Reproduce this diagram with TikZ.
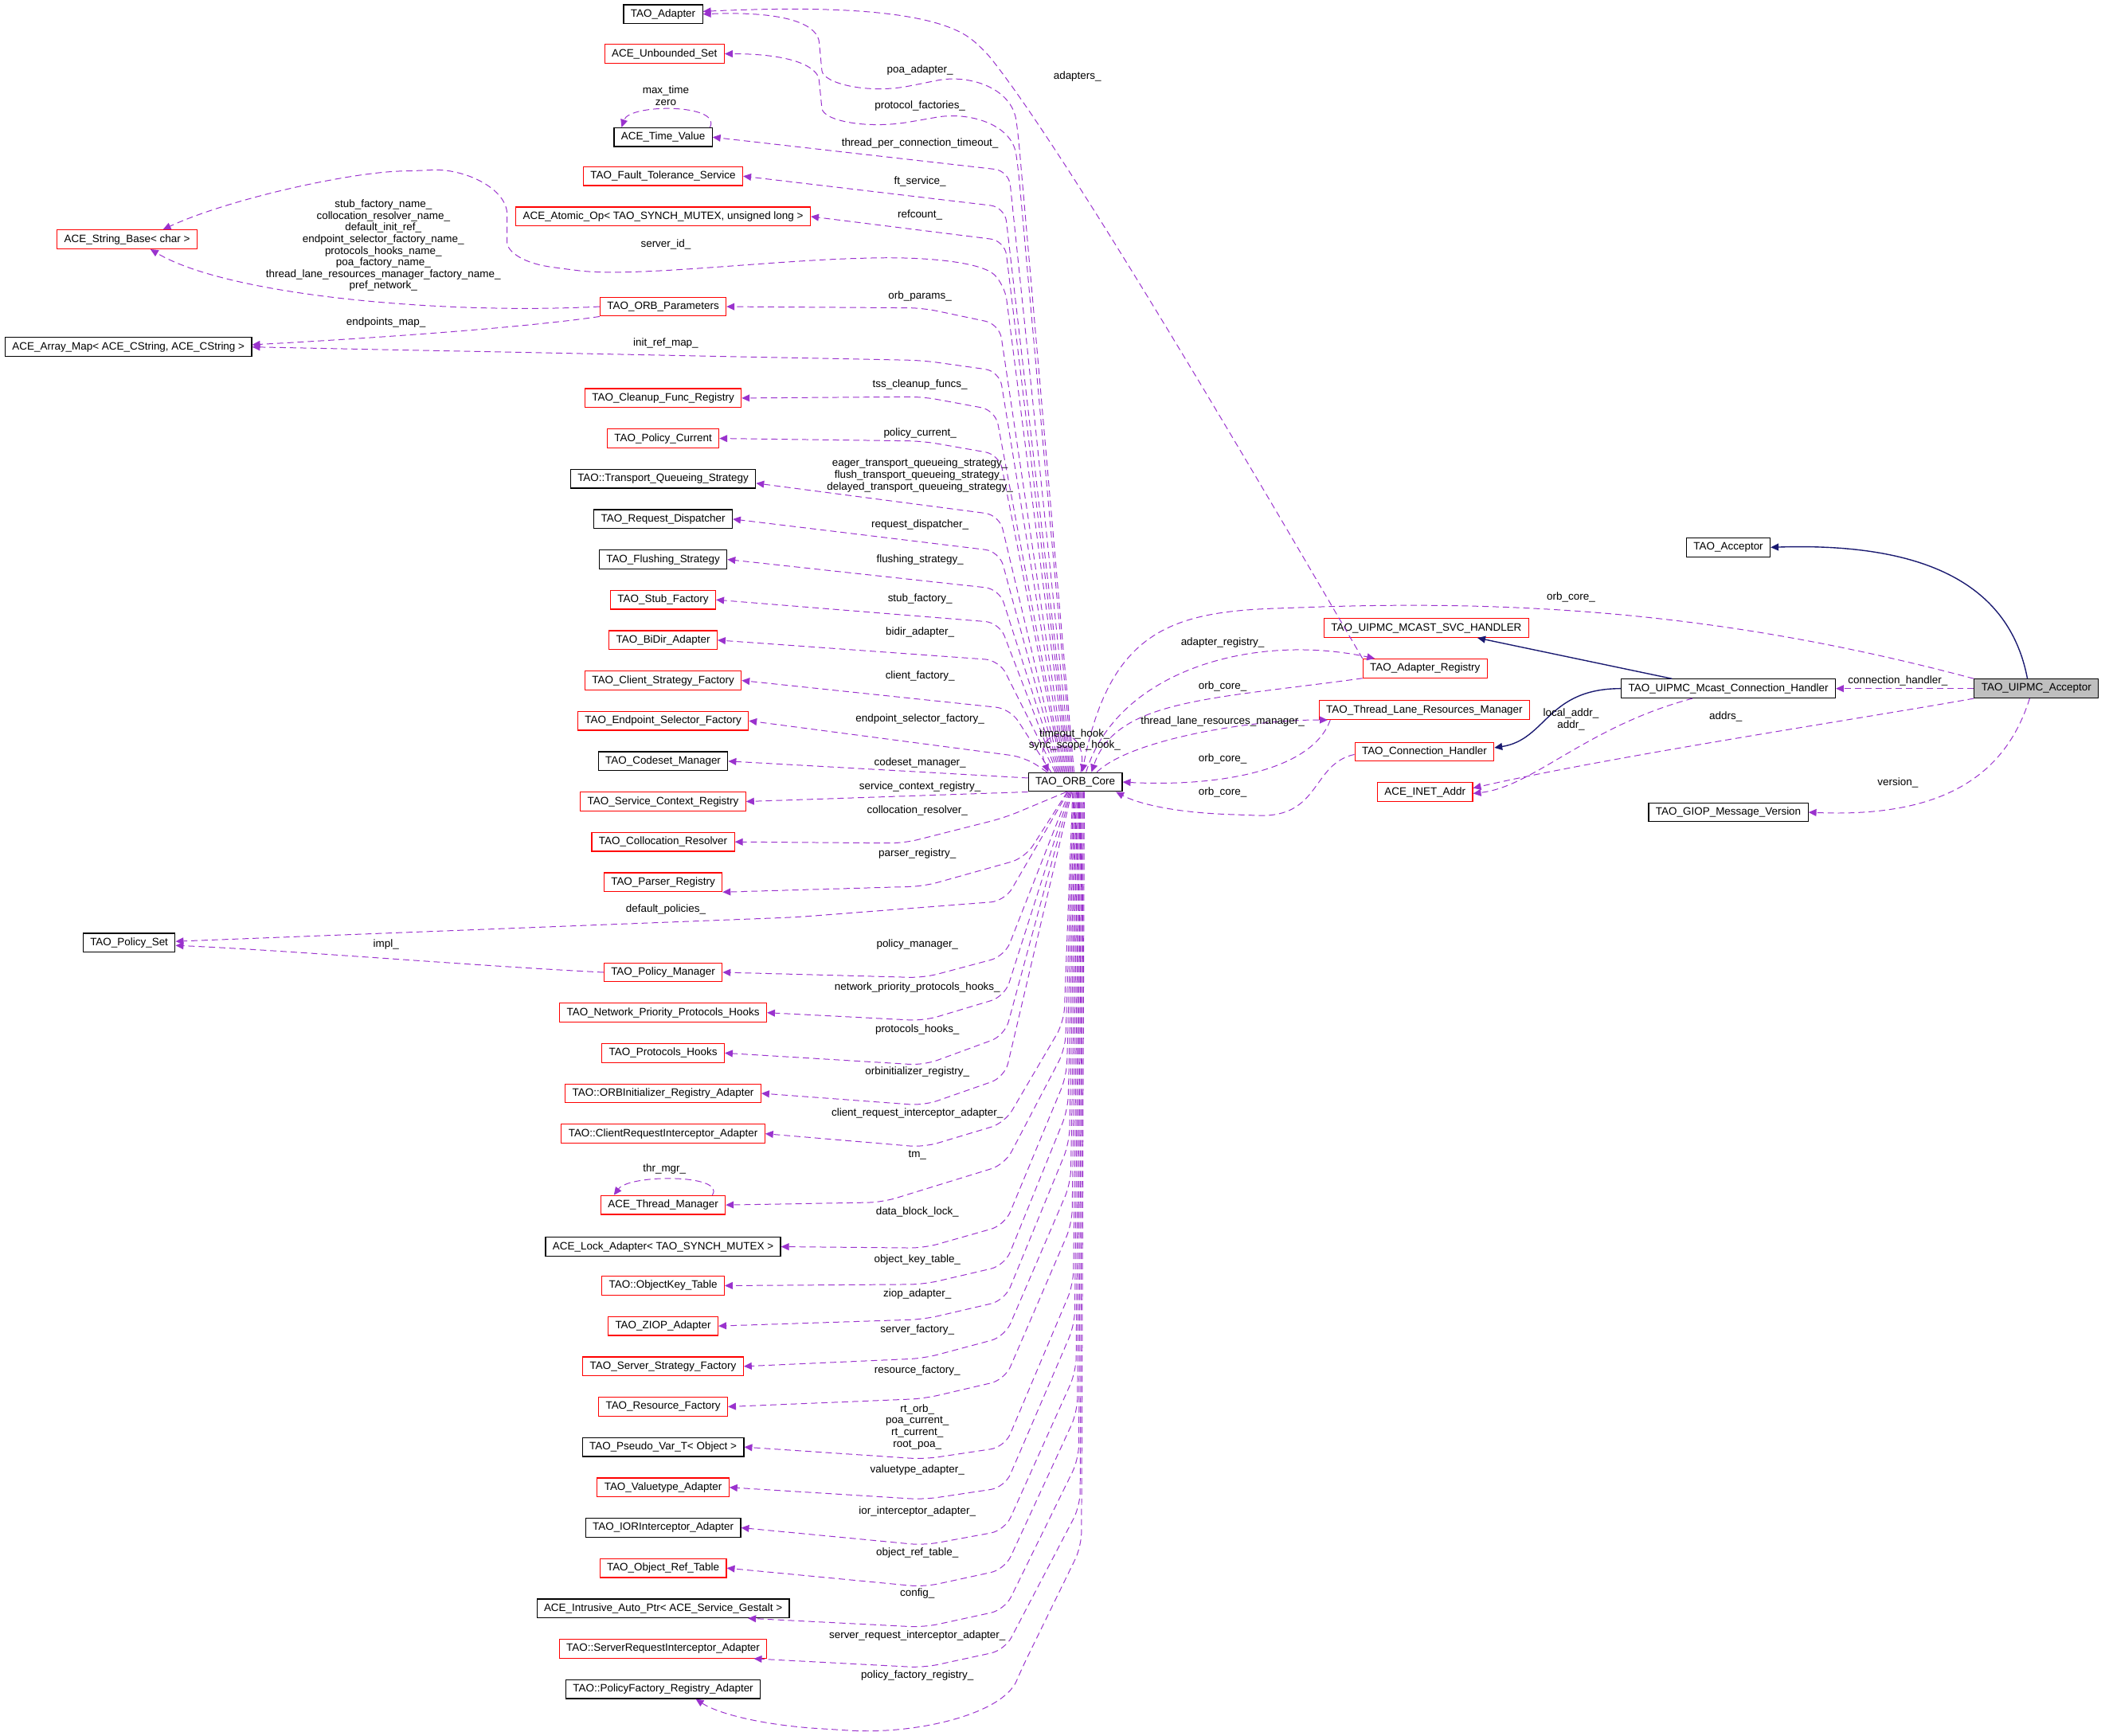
\documentclass[tikz,border=0pt]{standalone}
\usepackage{fontspec}
\setmainfont{Liberation Sans}
\usetikzlibrary{arrows.meta}
\definecolor{memcol}{HTML}{9A32CD}
\definecolor{inhcol}{HTML}{191970}
\definecolor{accfill}{HTML}{BFBFBF}
\tikzset{
	cls/.style={draw=black, line width=0.6pt, fill=white, rectangle, minimum height=0.42cm, inner xsep=4.5pt, inner ysep=0pt, font=\fontsize{6.8}{7.4}\selectfont},
	clsred/.style={cls, draw=red},
	lbl/.style={font=\fontsize{6.8}{7.4}\selectfont, inner sep=0pt, align=center},
	mem/.style={draw=memcol, line width=0.5pt, dash pattern=on 4pt off 2.5pt, rounded corners=9pt, -{Triangle[length=5pt,width=4.5pt]}},
	inh/.style={draw=inhcol, line width=0.7pt, -{Triangle[length=5pt,width=4.5pt]}}
}
\begin{document}
\begin{tikzpicture}[x=0.03cm, y=-0.03cm]
	\useasboundingbox (0,0) rectangle (1568,1290.7);
	% classes on the left
	\node[cls] (adapter) at (493,10.5) {TAO\_Adapter};
	\node[clsred] (uset) at (494,40) {ACE\_Unbounded\_Set};
	\node[cls] (tval) at (493,102) {ACE\_Time\_Value};
	\node[clsred] (fts) at (493,131) {TAO\_Fault\_Tolerance\_Service};
	\node[clsred] (atomic) at (493,161) {ACE\_Atomic\_Op< TAO\_SYNCH\_MUTEX, unsigned long >};
	\node[clsred] (strbase) at (94.5,178) {ACE\_String\_Base< char >};
	\node[clsred] (params) at (493,228) {TAO\_ORB\_Parameters};
	\node[cls] (amap) at (95.5,258) {ACE\_Array\_Map< ACE\_CString, ACE\_CString >};
	\node[clsred] (cleanup) at (493,296) {TAO\_Cleanup\_Func\_Registry};
	\node[clsred] (pcur) at (493,326) {TAO\_Policy\_Current};
	\node[cls] (tqs) at (493,356) {TAO::Transport\_Queueing\_Strategy};
	\node[cls] (rdisp) at (493,386) {TAO\_Request\_Dispatcher};
	\node[cls] (flush) at (493,416) {TAO\_Flushing\_Strategy};
	\node[clsred] (stubf) at (493,446) {TAO\_Stub\_Factory};
	\node[clsred] (bidir) at (493,476) {TAO\_BiDir\_Adapter};
	\node[clsred] (csf) at (493,506) {TAO\_Client\_Strategy\_Factory};
	\node[clsred] (esf) at (493,536) {TAO\_Endpoint\_Selector\_Factory};
	\node[cls] (codeset) at (493,566) {TAO\_Codeset\_Manager};
	\node[clsred] (scr) at (493,596) {TAO\_Service\_Context\_Registry};
	\node[clsred] (colres) at (493,626) {TAO\_Collocation\_Resolver};
	\node[clsred] (parser) at (493,656) {TAO\_Parser\_Registry};
	\node[cls] (pset) at (96,701) {TAO\_Policy\_Set};
	\node[clsred] (pman) at (493,723) {TAO\_Policy\_Manager};
	\node[clsred] (npph) at (493,753) {TAO\_Network\_Priority\_Protocols\_Hooks};
	\node[clsred] (phooks) at (493,783) {TAO\_Protocols\_Hooks};
	\node[clsred] (orbinit) at (493,813) {TAO::ORBInitializer\_Registry\_Adapter};
	\node[clsred] (creq) at (493,843) {TAO::ClientRequestInterceptor\_Adapter};
	\node[clsred] (thrmgr) at (493,896) {ACE\_Thread\_Manager};
	\node[cls] (lock) at (493,927) {ACE\_Lock\_Adapter< TAO\_SYNCH\_MUTEX >};
	\node[clsred] (okt) at (493,956) {TAO::ObjectKey\_Table};
	\node[clsred] (ziop) at (493,986) {TAO\_ZIOP\_Adapter};
	\node[clsred] (ssf) at (493,1016) {TAO\_Server\_Strategy\_Factory};
	\node[clsred] (resf) at (493,1046) {TAO\_Resource\_Factory};
	\node[cls] (pvar) at (493,1076) {TAO\_Pseudo\_Var\_T< Object >};
	\node[clsred] (vta) at (493,1106) {TAO\_Valuetype\_Adapter};
	\node[cls] (iori) at (493,1136) {TAO\_IORInterceptor\_Adapter};
	\node[clsred] (oref) at (493,1166) {TAO\_Object\_Ref\_Table};
	\node[cls] (iap) at (493,1196) {ACE\_Intrusive\_Auto\_Ptr< ACE\_Service\_Gestalt >};
	\node[clsred] (sreq) at (493,1226) {TAO::ServerRequestInterceptor\_Adapter};
	\node[cls] (pfr) at (493,1256) {TAO::PolicyFactory\_Registry\_Adapter};
	% core and right side
	\node[cls] (core) at (799.5,581.5) {TAO\_ORB\_Core};
	\node[cls] (tacc) at (1285,407) {TAO\_Acceptor};
	\node[clsred] (svch) at (1060.5,467) {TAO\_UIPMC\_MCAST\_SVC\_HANDLER};
	\node[clsred] (areg) at (1059.5,497) {TAO\_Adapter\_Registry};
	\node[cls] (mcast) at (1285,512) {TAO\_UIPMC\_Mcast\_Connection\_Handler};
	\node[cls, fill=accfill] (uacc) at (1514,512) {TAO\_UIPMC\_Acceptor};
	\node[clsred] (tlrm) at (1059,528) {TAO\_Thread\_Lane\_Resources\_Manager};
	\node[clsred] (conn) at (1059,559) {TAO\_Connection\_Handler};
	\node[clsred] (inet) at (1059.5,589) {ACE\_INET\_Addr};
	\node[cls] (giop) at (1285,604) {TAO\_GIOP\_Message\_Version};

	% members above the core
	\draw[mem] ([xshift=-0.03cm]core.north) -- (757,100) .. controls (752,65) and (720,55) .. (686,62) .. controls (645,70) and (612,62) .. (610,42) .. controls (608,20) and (590,8) .. (adapter.east);
	\draw[mem] ([xshift=-0.06cm]core.north) -- (757,125) .. controls (752,92) and (720,83) .. (686,89) .. controls (645,96) and (612,90) .. (610,70) .. controls (608,50) and (590,40) .. (uset.east);
	\draw[mem] ([xshift=-0.09cm]core.north) -- (750,127) -- (tval.east);
	\draw[mem] ([xshift=-0.12cm]core.north) -- (747,154) -- (fts.east);
	\draw[mem] ([xshift=-0.15cm]core.north) -- (747,179) -- (atomic.east);
	\draw[mem] ([xshift=-0.18cm]core.north) -- (747,212) .. controls (730,195) and (690,191) .. (640,192) .. controls (560,195) and (470,206) .. (420,200) .. controls (385,195) and (377,185) .. (377,170) .. controls (377,140) and (345,125) .. (310,127) .. controls (260,128) and (170,148) .. ([xshift=0.8cm]strbase.north);
	\draw[mem] ([xshift=-0.21cm]core.north) -- (743,241) -- (686,229) -- (params.east);
	\draw[mem] ([xshift=-0.24cm]core.north) -- (743,276) -- (686,268) -- (amap.east);
	\draw[mem] ([xshift=-0.27cm]core.north) -- (740,305) -- (686,295) -- (cleanup.east);
	\draw[mem] ([xshift=-0.3cm]core.north) -- (743,338) -- (686,328) -- (pcur.east);
	\draw[mem] ([xshift=-0.33cm]core.north) -- (743,383) -- ([yshift=-0.1cm]tqs.east);
	\draw[mem] ([xshift=-0.36cm]core.north) -- (743,410) -- (rdisp.east);
	\draw[mem] ([xshift=-0.39cm]core.north) -- (743,438) -- (flush.east);
	\draw[mem] ([xshift=-0.42cm]core.north) -- (743,463) -- (stubf.east);
	\draw[mem] ([xshift=-0.45cm]core.north) -- (743,491) -- (bidir.east);
	\draw[mem] ([xshift=-0.54cm]core.north) -- (751,527) -- (csf.east);
	\draw[mem] ([xshift=-0.63cm]core.north) -- (762,563) -- (esf.east);
	\draw[mem] ([yshift=0.09cm]core.west) -- (codeset.east);
	\draw[mem] (core.south west) -- (scr.east);
	% members below the core
	\draw[mem] ([xshift=-0.2cm]core.south) -- (747,608) -- (672,627) -- (colres.east);
	\draw[mem] ([xshift=-0.18cm]core.south) -- (762,638) -- (687,659) -- (parser.south east);
	\draw[mem] ([xshift=-0.16cm]core.south) -- (747,670) -- (592,682) -- ([yshift=0.03cm]pset.east);
	\draw[mem] ([xshift=-0.14cm]core.south) -- (747,711) -- (687,727) -- (pman.east);
	\draw[mem] ([xshift=-0.12cm]core.south) -- (747,741) -- (687,759) -- (npph.east);
	\draw[mem] ([xshift=-0.1cm]core.south) -- (747,770) -- (687,792) -- (phooks.east);
	\draw[mem] ([xshift=-0.08cm]core.south) -- (747,801) -- (687,822) -- (orbinit.east);
	\draw[mem] ([xshift=-0.06cm]core.south) -- (791,760) -- (747,835) -- (687,853) -- (creq.east);
	\draw[mem] ([xshift=-0.04cm]core.south) -- (792,780) -- (747,866) -- (656,894) -- (thrmgr.east);
	\draw[mem] ([xshift=-0.02cm]core.south) -- (793,800) -- (747,911) -- (687,928) -- (lock.east);
	\draw[mem] (core.south) -- (794,825) -- (747,941) -- (687,955) -- (okt.east);
	\draw[mem] ([xshift=0.02cm]core.south) -- (795,850) -- (747,967) -- (687,981) -- (ziop.east);
	\draw[mem] ([xshift=0.04cm]core.south) -- (796,880) -- (747,994) -- (687,1010) -- (ssf.east);
	\draw[mem] ([xshift=0.06cm]core.south) -- (797,910) -- (747,1026) -- (687,1040) -- (resf.east);
	\draw[mem] ([xshift=0.08cm]core.south) -- (798,955) -- (747,1076) -- (687,1085) -- (pvar.east);
	\draw[mem] ([xshift=0.1cm]core.south) -- (799,985) -- (747,1106) -- (687,1115) -- (vta.east);
	\draw[mem] ([xshift=0.12cm]core.south) -- (800,1020) -- (747,1138) -- (687,1149) -- (iori.east);
	\draw[mem] ([xshift=0.14cm]core.south) -- (801,1050) -- (747,1167) -- (687,1180) -- (oref.east);
	\draw[mem] ([xshift=0.16cm]core.south) -- (802,1085) -- (747,1197) -- (687,1210) -- ([xshift=-0.93cm]iap.south east);
	\draw[mem] ([xshift=0.18cm]core.south) -- (803,1120) -- (747,1227) -- (687,1240) -- ([xshift=-0.3cm]sreq.south east);
	\draw[mem] ([xshift=0.2cm]core.south) -- (804,1150) -- (760,1240) .. controls (745,1275) and (680,1290) .. (620,1286) .. controls (570,1283) and (535,1275) .. ([xshift=-1.45cm]pfr.south east);
	% among the left classes
	\draw[mem] (params.west) .. controls (330,234) and (170,220) .. ([xshift=0.52cm]strbase.south);
	\draw[mem] (params.south west) .. controls (380,245) and (250,253) .. ([yshift=0.05cm]amap.east);
	\draw[mem] (pman.west) .. controls (350,718) and (220,707) .. ([yshift=-0.06cm]pset.east);
	\draw[mem] ([xshift=-0.06cm]tval.north east) .. controls (537,77) and (468,77) .. ([xshift=0.18cm]tval.north west);
	\draw[mem] ([xshift=-0.3cm]thrmgr.north east) .. controls (540,873) and (468,873) .. ([xshift=0.3cm]thrmgr.north west);
	\draw[mem] ([xshift=0.12cm]core.north) .. controls (812,535) and (765,540) .. ([xshift=-0.6cm]core.north);
	% right side
	\draw[mem] (areg.north west) .. controls (920,330) and (790,110) .. (730,35) .. controls (690,5) and (600,5) .. ([yshift=0.06cm]adapter.east);
	\draw[mem] ([xshift=0.24cm]core.north) .. controls (830,500) and (930,470) .. ([xshift=-1.12cm]areg.north);
	\draw[mem] (areg.south west) .. controls (900,520) and (830,520) .. ([xshift=0.36cm]core.north);
	\draw[mem] ([xshift=0.48cm]core.north) .. controls (840,550) and (930,535) .. ([xshift=0.2cm]tlrm.south west);
	\draw[mem] ([xshift=-2.1cm]tlrm.south) .. controls (975,575) and (900,585) .. (core.east);
	\draw[mem] ([yshift=-0.06cm]conn.west) .. controls (975,568) and (982,608) .. (925,606) .. controls (870,604) and (845,597) .. ([xshift=-0.15cm]core.south east);
	\draw[mem] (uacc.north west) .. controls (1300,460) and (1150,445) .. (960,452) .. controls (870,455) and (825,470) .. ([xshift=0.15cm]core.north);
	\draw[mem] (uacc.west) -- (mcast.east);
	\draw[mem] (uacc.south west) .. controls (1380,535) and (1200,562) .. ([yshift=0.09cm]inet.east);
	\draw[mem] ([xshift=-0.8cm]mcast.south) .. controls (1180,540) and (1140,585) .. ([yshift=-0.03cm]inet.east);
	\draw[mem] ([xshift=-0.15cm]uacc.south) .. controls (1490,580) and (1440,608) .. (giop.east);
	\draw[inh] ([xshift=-0.2cm]uacc.north) .. controls (1495,440) and (1440,403) .. (tacc.east);
	\draw[inh] ([xshift=-1.26cm]mcast.north) -- ([xshift=1.14cm]svch.south);
	\draw[inh] (mcast.west) .. controls (1150,512) and (1150,550) .. ([yshift=0.09cm]conn.east);

	% labels
	\node[lbl] (lpoa) at (684,52) {poa\_adapter\_};
	\node[lbl] (ladapters) at (801,56.6) {adapters\_};
	\node[lbl] (lproto) at (684,78.5) {protocol\_factories\_};
	\node[lbl] (ltval) at (495,71) {max\_time\\zero};
	\node[lbl] (ltpct) at (684,106.5) {thread\_per\_connection\_timeout\_};
	\node[lbl] (lft) at (684,135) {ft\_service\_};
	\node[lbl] (lrefc) at (684,160) {refcount\_};
	\node[lbl] (lsid) at (495,182) {server\_id\_};
	\node[lbl] (lnames) at (285,182.5) {stub\_factory\_name\_\\collocation\_resolver\_name\_\\default\_init\_ref\_\\endpoint\_selector\_factory\_name\_\\protocols\_hooks\_name\_\\poa\_factory\_name\_\\thread\_lane\_resources\_manager\_factory\_name\_\\pref\_network\_};
	\node[lbl] (lparams) at (684,220) {orb\_params\_};
	\node[lbl] (lepmap) at (287,240) {endpoints\_map\_};
	\node[lbl] (lirmap) at (495,255) {init\_ref\_map\_};
	\node[lbl] (ltss) at (684,286) {tss\_cleanup\_funcs\_};
	\node[lbl] (lpcur) at (684,322) {policy\_current\_};
	\node[lbl] (ltqs) at (684,353.5) {eager\_transport\_queueing\_strategy\_\\flush\_transport\_queueing\_strategy\_\\delayed\_transport\_queueing\_strategy\_};
	\node[lbl] (lrdisp) at (684,390.4) {request\_dispatcher\_};
	\node[lbl] (lflush) at (684,416.5) {flushing\_strategy\_};
	\node[lbl] (lstub) at (684,445) {stub\_factory\_};
	\node[lbl] (lbidir) at (684,470) {bidir\_adapter\_};
	\node[lbl] (lcsf) at (684,503) {client\_factory\_};
	\node[lbl] (lesf) at (684,535) {endpoint\_selector\_factory\_};
	\node[lbl] (lcodeset) at (684,567.5) {codeset\_manager\_};
	\node[lbl] (lscr) at (684,585) {service\_context\_registry\_};
	\node[lbl] (lcolres) at (682,603) {collocation\_resolver\_};
	\node[lbl] (lparser) at (682,634.7) {parser\_registry\_};
	\node[lbl] (ldefpol) at (495,676) {default\_policies\_};
	\node[lbl] (limpl) at (287,702) {impl\_};
	\node[lbl] (lpman) at (682,702) {policy\_manager\_};
	\node[lbl] (lnpph) at (682,734) {network\_priority\_protocols\_hooks\_};
	\node[lbl] (lphooks) at (682,765.6) {protocols\_hooks\_};
	\node[lbl] (lorbinit) at (682,797) {orbinitializer\_registry\_};
	\node[lbl] (lcreq) at (682,828) {client\_request\_interceptor\_adapter\_};
	\node[lbl] (lthrmgr) at (494,869) {thr\_mgr\_};
	\node[lbl] (ltm) at (682,859) {tm\_};
	\node[lbl] (llock) at (682,901) {data\_block\_lock\_};
	\node[lbl] (lokt) at (682,936.6) {object\_key\_table\_};
	\node[lbl] (lziop) at (682,962) {ziop\_adapter\_};
	\node[lbl] (lssf) at (682,989) {server\_factory\_};
	\node[lbl] (lresf) at (682,1019) {resource\_factory\_};
	\node[lbl] (lpvar) at (682,1061) {rt\_orb\_\\poa\_current\_\\rt\_current\_\\root\_poa\_};
	\node[lbl] (lvta) at (682,1093) {valuetype\_adapter\_};
	\node[lbl] (liori) at (682,1124) {ior\_interceptor\_adapter\_};
	\node[lbl] (loref) at (682,1154.5) {object\_ref\_table\_};
	\node[lbl] (liap) at (682,1185) {config\_};
	\node[lbl] (lsreq) at (682,1216) {server\_request\_interceptor\_adapter\_};
	\node[lbl] (lpfr) at (682,1245.6) {policy\_factory\_registry\_};
	\node[lbl] (lhooks) at (799,550) {timeout\_hook\_\\sync\_scope\_hook\_};
	\node[lbl] (lareg) at (909,478) {adapter\_registry\_};
	\node[lbl] (lregcore) at (909,510.5) {orb\_core\_};
	\node[lbl] (ltlrm) at (909,536.6) {thread\_lane\_resources\_manager\_};
	\node[lbl] (ltlrmcore) at (909,564) {orb\_core\_};
	\node[lbl] (lconncore) at (909,589) {orb\_core\_};
	\node[lbl] (lacccore) at (1168,444) {orb\_core\_};
	\node[lbl] (lconnh) at (1411,506) {connection\_handler\_};
	\node[lbl] (laddrs) at (1283,533) {addrs\_};
	\node[lbl] (laddr) at (1168,535) {local\_addr\_\\addr\_};
	\node[lbl] (lversion) at (1411,582) {version\_};
\end{tikzpicture}
\end{document}
